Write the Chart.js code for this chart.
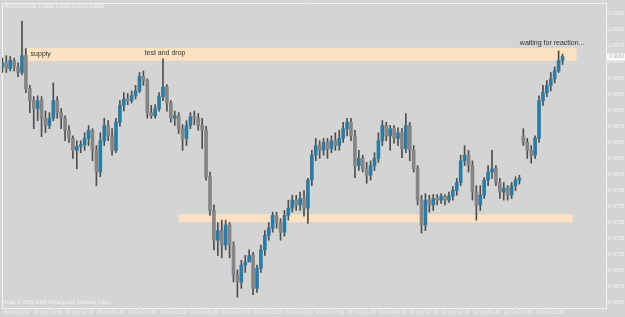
<!DOCTYPE html>
<html>
<head>
<meta charset="utf-8">
<script src="https://cdn.jsdelivr.net/npm/chart.js@4.4.0/dist/chart.umd.min.js"></script>
<style>
  html, body { margin: 0; padding: 0; background: #d4d4d4; }
  canvas { display: block; }
</style>
</head>
<body>
<canvas id="chart" width="625" height="317"></canvas>
<script>
const symbolTitle = 'AUDUSD,M30  0.9962 0.9962 0.9962 0.9962';
const copyright = 'FXdd, \u00a9 2001-2009 MetaQuotes Software Corp.';

// one candle per hour
const opens = [
  0.9949,0.9954,0.9947,0.9957,0.9949,0.9942,0.9963,0.9922,0.9907,0.9897,
  0.9907,0.9885,0.9876,0.9885,0.9907,0.9892,0.9885,0.9870,0.9860,0.9845,
  0.9850,0.9852,0.9860,0.9870,0.9845,0.9818,0.9857,0.9876,0.9863,0.9845,
  0.9880,0.9901,0.9909,0.9907,0.9913,0.9919,0.9937,0.9932,0.9892,0.9888,
  0.9897,0.9912,0.9924,0.9904,0.9885,0.9888,0.9872,0.9860,0.9876,0.9887,
  0.9885,0.9876,0.9870,0.9812,0.9770,0.9733,0.9745,0.9727,0.9752,0.9727,
  0.9690,0.9681,0.9702,0.9706,0.9714,0.9673,0.9698,0.9721,0.9739,0.9748,
  0.9764,0.9755,0.9743,0.9764,0.9773,0.9783,0.9777,0.9785,0.9773,0.9808,
  0.9839,0.9851,0.9845,0.9855,0.9847,0.9857,0.9851,0.9860,0.9872,0.9880,
  0.9863,0.9826,0.9835,0.9822,0.9814,0.9826,0.9835,0.9857,0.9876,0.9863,
  0.9872,0.9860,0.9867,0.9847,0.9876,0.9845,0.9822,0.9783,0.9752,0.9783,
  0.9777,0.9785,0.9783,0.9788,0.9783,0.9788,0.9795,0.9805,0.9832,0.9839,
  0.9826,0.9793,0.9777,0.9789,0.9808,0.9818,0.9822,0.9805,0.9793,0.9798,
  0.9789,0.9801,0.9808,0.9863,0.9855,0.9845,0.9839,0.9860,0.9907,0.9917,
  0.9926,0.9934,0.9944,0.9957
];
const highs = [
  0.9960,0.9963,0.9962,0.9960,0.9954,1.0006,0.9972,0.9926,0.9912,0.9913,
  0.9912,0.9894,0.9892,0.9929,0.9912,0.9897,0.9888,0.9876,0.9863,0.9857,
  0.9857,0.9867,0.9876,0.9872,0.9851,0.9867,0.9885,0.9882,0.9872,0.9885,
  0.9907,0.9917,0.9916,0.9919,0.9926,0.9942,0.9944,0.9934,0.9901,0.9902,
  0.9917,0.9959,0.9927,0.9907,0.9894,0.9892,0.9877,0.9882,0.9892,0.9894,
  0.9891,0.9885,0.9875,0.9818,0.9777,0.9755,0.9758,0.9758,0.9755,0.9731,
  0.9696,0.9708,0.9714,0.9721,0.9718,0.9702,0.9727,0.9745,0.9755,0.9768,
  0.9768,0.9760,0.9770,0.9783,0.9789,0.9789,0.9793,0.9795,0.9810,0.9845,
  0.9860,0.9857,0.9860,0.9860,0.9863,0.9867,0.9870,0.9880,0.9885,0.9885,
  0.9870,0.9845,0.9839,0.9830,0.9832,0.9842,0.9867,0.9882,0.9880,0.9876,
  0.9876,0.9873,0.9872,0.9891,0.9880,0.9851,0.9826,0.9789,0.9791,0.9789,
  0.9790,0.9790,0.9791,0.9790,0.9793,0.9800,0.9810,0.9839,0.9851,0.9845,
  0.9832,0.9801,0.9801,0.9811,0.9826,0.9845,0.9826,0.9810,0.9805,0.9801,
  0.9805,0.9812,0.9814,0.9872,0.9860,0.9851,0.9863,0.9913,0.9926,0.9932,
  0.9942,0.9949,0.9969,0.9965
];
const lows = [
  0.9942,0.9942,0.9944,0.9944,0.9937,0.9939,0.9917,0.9892,0.9872,0.9882,
  0.9862,0.9867,0.9872,0.9882,0.9885,0.9872,0.9857,0.9855,0.9835,0.9822,
  0.9842,0.9845,0.9851,0.9832,0.9801,0.9812,0.9851,0.9857,0.9839,0.9842,
  0.9875,0.9894,0.9902,0.9904,0.9909,0.9917,0.9926,0.9885,0.9885,0.9885,
  0.9894,0.9907,0.9894,0.9880,0.9876,0.9866,0.9845,0.9851,0.9872,0.9877,
  0.9870,0.9847,0.9808,0.9764,0.9721,0.9714,0.9711,0.9721,0.9711,0.9681,
  0.9662,0.9673,0.9693,0.9706,0.9665,0.9668,0.9693,0.9714,0.9733,0.9743,
  0.9748,0.9733,0.9738,0.9758,0.9768,0.9770,0.9770,0.9763,0.9754,0.9801,
  0.9832,0.9835,0.9839,0.9835,0.9842,0.9845,0.9845,0.9855,0.9863,0.9857,
  0.9811,0.9820,0.9818,0.9804,0.9808,0.9820,0.9830,0.9851,0.9857,0.9845,
  0.9854,0.9851,0.9836,0.9842,0.9832,0.9818,0.9777,0.9742,0.9745,0.9768,
  0.9770,0.9777,0.9779,0.9777,0.9780,0.9783,0.9789,0.9801,0.9826,0.9818,
  0.9783,0.9758,0.9770,0.9785,0.9801,0.9810,0.9801,0.9785,0.9783,0.9783,
  0.9785,0.9795,0.9803,0.9851,0.9835,0.9829,0.9835,0.9855,0.9901,0.9912,
  0.9919,0.9929,0.9942,0.9952
];
const closes = [
  0.9954,0.9947,0.9957,0.9949,0.9942,0.9963,0.9922,0.9907,0.9897,0.9907,
  0.9885,0.9876,0.9885,0.9907,0.9892,0.9885,0.9870,0.9860,0.9845,0.9850,
  0.9852,0.9860,0.9870,0.9845,0.9818,0.9857,0.9876,0.9863,0.9845,0.9880,
  0.9901,0.9909,0.9907,0.9913,0.9919,0.9937,0.9932,0.9892,0.9888,0.9897,
  0.9912,0.9924,0.9904,0.9885,0.9888,0.9872,0.9860,0.9876,0.9887,0.9885,
  0.9876,0.9870,0.9812,0.9770,0.9733,0.9745,0.9727,0.9752,0.9727,0.9690,
  0.9681,0.9702,0.9706,0.9714,0.9673,0.9698,0.9721,0.9739,0.9748,0.9764,
  0.9755,0.9743,0.9764,0.9773,0.9783,0.9777,0.9785,0.9773,0.9808,0.9839,
  0.9851,0.9845,0.9855,0.9847,0.9857,0.9851,0.9860,0.9872,0.9880,0.9863,
  0.9826,0.9835,0.9822,0.9814,0.9826,0.9835,0.9857,0.9876,0.9863,0.9872,
  0.9860,0.9867,0.9847,0.9876,0.9845,0.9822,0.9783,0.9752,0.9783,0.9777,
  0.9785,0.9783,0.9788,0.9783,0.9788,0.9795,0.9805,0.9832,0.9839,0.9826,
  0.9793,0.9777,0.9789,0.9808,0.9818,0.9822,0.9805,0.9793,0.9798,0.9789,
  0.9801,0.9808,0.9810,0.9855,0.9845,0.9839,0.9860,0.9907,0.9917,0.9926,
  0.9934,0.9944,0.9957,0.9962
];

const timeLabels = [
  '15 Oct 2010', '15 Oct 16:30', '18 Oct 01:30', '18 Oct 09:30', '18 Oct 17:30',
  '19 Oct 01:30', '19 Oct 09:30', '19 Oct 17:30', '20 Oct 01:30', '20 Oct 09:30',
  '20 Oct 17:30', '21 Oct 01:30', '21 Oct 09:30', '21 Oct 17:30', '22 Oct 01:30',
  '22 Oct 09:30', '22 Oct 17:30', '25 Oct 01:30'
];
const barsPerLabel = 8;
const priceTicks = [
  1.0015, 0.9995, 0.9975, 0.9955, 0.9935, 0.9915, 0.9895, 0.9875, 0.9855, 0.9835,
  0.9815, 0.9795, 0.9775, 0.9755, 0.9735, 0.9715, 0.9695, 0.9675, 0.9655
];

// drawn rectangles and text labels (bar index / price)
const zones = [
  { from: 5.95, to: 146.6, top: 0.99727, bottom: 0.99566 },
  { from: 45.0, to: 145.6, top: 0.97653, bottom: 0.97554 }
];
const notes = [
  { text: 'supply', x: 7.2, y: 0.9965 },
  { text: 'test and drop', x: 36.3, y: 0.99665 },
  { text: 'waiting for reaction...', x: 132.1, y: 0.9979 }
];

const bullColor = '#2d7ba3';
const bearColor = '#858585';
const wickColor = '#4e4e4e';
const axisColor = '#f2f2f2';

const bodies = closes.map((c, i) => ({ x: i, y: [opens[i], c] }));
const wicks = closes.map((c, i) => ({ x: i, y: [lows[i], highs[i]] }));
const bodyColors = closes.map((c, i) => c >= opens[i] ? bullColor : bearColor);

const mtPlugin = {
  id: 'mt',
  beforeDraw(chart) {
    const ctx = chart.ctx;
    ctx.save();
    ctx.fillStyle = '#d4d4d4';
    ctx.fillRect(0, 0, chart.width, chart.height);
    ctx.restore();
  },
  beforeDatasetsDraw(chart) {
    const { ctx, chartArea, scales: { x, y } } = chart;
    ctx.save();
    ctx.fillStyle = '#fce2c3';
    zones.forEach(z => {
      const x0 = x.getPixelForValue(z.from);
      const x1 = x.getPixelForValue(z.to);
      const y0 = y.getPixelForValue(z.top);
      const y1 = y.getPixelForValue(z.bottom);
      ctx.fillRect(x0, y0, x1 - x0, y1 - y0);
    });
    // top and left frame
    ctx.strokeStyle = axisColor;
    ctx.lineWidth = 1;
    ctx.beginPath();
    ctx.moveTo(chartArea.left + 0.5, chartArea.bottom);
    ctx.lineTo(chartArea.left + 0.5, chartArea.top + 0.5);
    ctx.lineTo(chartArea.right, chartArea.top + 0.5);
    ctx.stroke();
    ctx.restore();
  },
  afterDatasetsDraw(chart) {
    const { ctx, chartArea, scales: { x, y } } = chart;
    ctx.save();
    ctx.fillStyle = '#333333';
    ctx.font = '7px "Liberation Sans", Arial, sans-serif';
    ctx.textBaseline = 'middle';
    ctx.textAlign = 'left';
    notes.forEach(n => {
      ctx.fillText(n.text, x.getPixelForValue(n.x), y.getPixelForValue(n.y));
    });

    ctx.fillStyle = axisColor;
    ctx.font = '5px "Liberation Sans", Arial, sans-serif';
    ctx.fillText(symbolTitle, chartArea.left + 2, chartArea.top + 4);
    ctx.fillText(copyright, chartArea.left + 1, chartArea.bottom - 5);

    // bid price marker on the price scale
    const last = closes[closes.length - 1];
    const py = y.getPixelForValue(last);
    ctx.fillStyle = '#fafafa';
    ctx.fillRect(chartArea.right + 1, py - 3, chart.width - chartArea.right - 1, 7);
    ctx.fillStyle = '#b8b8b8';
    ctx.fillText(last.toFixed(4), chartArea.right + 3, py + 0.5);
    ctx.restore();
  }
};

const ctx = document.getElementById('chart').getContext('2d');
const chart = new Chart(ctx, {
  type: 'bar',
  data: {
    datasets: [
      {
        data: bodies,
        backgroundColor: bodyColors,
        barThickness: 3,
        minBarLength: 1,
        grouped: false,
        order: 1
      },
      {
        data: wicks,
        backgroundColor: wickColor,
        barThickness: 1,
        grouped: false,
        order: 2
      }
    ]
  },
  options: {
    responsive: false,
    animation: false,
    devicePixelRatio: 1,
    layout: { padding: { left: 2, top: 2, right: 0, bottom: 0 } },
    plugins: { legend: { display: false }, tooltip: { enabled: false } },
    scales: {
      x: {
        type: 'linear',
        min: -0.1,
        max: 154.1,
        offset: false,
        grid: { display: true, drawOnChartArea: false, drawTicks: true, tickLength: 2, color: axisColor },
        border: { color: axisColor },
        ticks: {
          align: 'start',
          padding: 0,
          autoSkip: false,
          maxRotation: 0,
          color: axisColor,
          font: { size: 5, family: '"Liberation Sans", Arial, sans-serif' },
          callback: v => timeLabels[Math.round(v / barsPerLabel)]
        },
        afterBuildTicks: s => { s.ticks = timeLabels.map((_, k) => ({ value: k * barsPerLabel })); },
        afterFit: s => { s.height = 9; }
      },
      y: {
        position: 'right',
        min: 0.964854,
        max: 1.002866,
        grid: { display: true, drawOnChartArea: false, drawTicks: true, tickLength: 3, color: axisColor },
        border: { color: axisColor },
        ticks: {
          padding: 0,
          autoSkip: false,
          color: axisColor,
          font: { size: 5, family: '"Liberation Sans", Arial, sans-serif' },
          callback: v => v.toFixed(4)
        },
        afterBuildTicks: s => { s.ticks = priceTicks.map(v => ({ value: v })); },
        afterFit: s => { s.width = 19; }
      }
    }
  },
  plugins: [mtPlugin]
});
</script>
</body>
</html>
